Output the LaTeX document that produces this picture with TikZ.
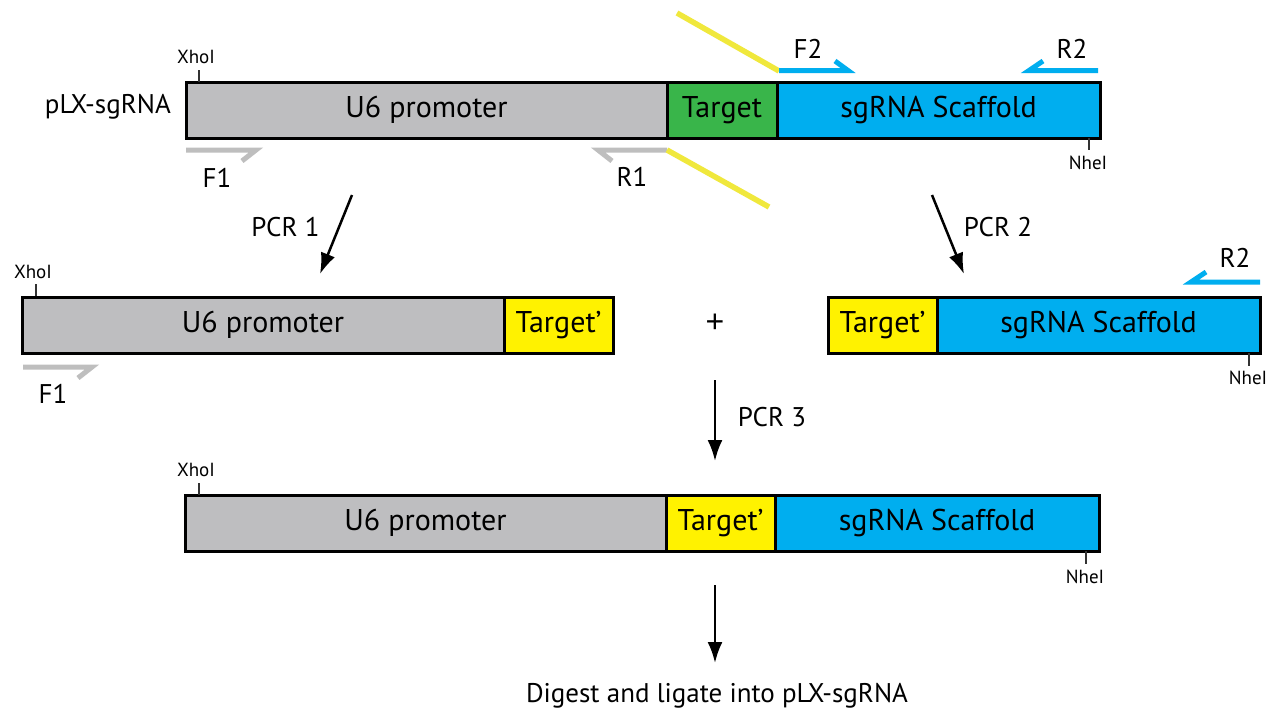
\documentclass[tikz,border=0pt]{standalone}
\usepackage{fontspec}
\setmainfont{PT Sans}
\newfontfamily\plusfont{Liberation Sans}
\usetikzlibrary{arrows.meta}
\definecolor{ggray}{RGB}{190,190,192}
\definecolor{pgray}{RGB}{190,190,190}
\definecolor{ggreen}{RGB}{57,181,74}
\definecolor{gblue}{RGB}{0,174,239}
\definecolor{gyellow}{RGB}{255,242,0}
\definecolor{lyellow}{RGB}{240,232,60}
\begin{document}
\begin{tikzpicture}[x=1pt,y=-1pt,
  seg/.style={draw=black,line width=3pt,minimum height=56pt,inner sep=0pt,font=\fontsize{30}{34}\selectfont},
  graybox/.style={seg,fill=ggray},
  greenbox/.style={seg,fill=ggreen},
  bluebox/.style={seg,fill=gblue},
  yelbox/.style={seg,fill=gyellow},
  primerg/.style={draw=pgray,line width=5pt,line join=miter},
  primerb/.style={draw=gblue,line width=5pt,line join=miter},
  yline/.style={draw=lyellow,line width=5.5pt},
  site/.style={draw=black!80,line width=1.2pt},
  sitelab/.style={font=\fontsize{19}{21}\selectfont,inner sep=0pt},
  plab/.style={font=\fontsize{27}{30}\selectfont,inner sep=0pt},
  steplab/.style={font=\fontsize{27}{30}\selectfont,inner sep=0pt},
  stepar/.style={draw=black,line width=2.5pt,-{Latex[length=21pt,width=15pt]}}
]
\useasboundingbox (0,0) rectangle (1274,710);
\fill[white] (0,0) rectangle (1274,710);

% ---- row 1
\node[graybox,minimum width=481pt] (u1) at (426.5,110) {U6 promoter};
\node[greenbox,minimum width=110pt] (t1) at (722,110) {Target};
\node[bluebox,minimum width=323pt] (s1) at (938.5,110) {sgRNA Scaffold};
\node[font=\fontsize{27}{30}\selectfont,inner sep=0pt,anchor=east] (plx) at (171,107) {pLX-sgRNA};
\draw[site] (199,70) -- (199,82);
\node[sitelab] (x1) at (196,57) {XhoI};
\draw[site] (1089,138) -- (1089,150);
\node[sitelab] (n1) at (1088,163) {NheI};

% primers row 1
\draw[primerg] (186,150) -- (256,150) -- (242,161);
\node[plab] (f1) at (217,178) {F1};
\draw[primerg] (667,150) -- (598,150) -- (612,161);
\node[plab] (r1) at (632,177) {R1};
\draw[yline] (677,13) -- (779,71);
\draw[yline] (667,150) -- (769,207);
\draw[primerb] (779,70.5) -- (848,70.5) -- (835,61);
\node[plab] (f2) at (808,48.5) {F2};
\draw[primerb] (1098,70.5) -- (1029,70.5) -- (1043,61);
\node[plab] (r2) at (1072,48.5) {R2};

% step arrows
\coordinate (a1s) at (352,195);
\coordinate (a1e) at (320,274);
\draw[stepar] (a1s) -- (a1e);
\node[steplab] (pcr1) at (285.5,227.5) {PCR 1};
\coordinate (a2s) at (932,195);
\coordinate (a2e) at (964,274);
\draw[stepar] (a2s) -- (a2e);
\node[steplab] (pcr2) at (998,227.5) {PCR 2};

% ---- row 2 left
\node[graybox,minimum width=482pt] (u2) at (263,325) {U6 promoter};
\node[yelbox,minimum width=109pt] (t2) at (558.5,325) {Target’};
\draw[site] (36,284) -- (36,296);
\node[sitelab] (x2) at (33,272) {XhoI};
\draw[primerg] (23,367) -- (92,367) -- (78,378);
\node[plab] (f1b) at (53,393.5) {F1};

\node[font=\plusfont\fontsize{32}{34}\selectfont,inner sep=0pt] (plus) at (715,323) {+};

% ---- row 2 right
\node[yelbox,minimum width=109pt] (t3) at (882.5,325) {Target’};
\node[bluebox,minimum width=323pt] (s3) at (1098.5,325) {sgRNA Scaffold};
\draw[primerb] (1260,282) -- (1191,282) -- (1206,272);
\node[plab] (r2b) at (1235,258) {R2};
\draw[site] (1249,353) -- (1249,366);
\node[sitelab] (n3) at (1248,378) {NheI};

% PCR 3
\coordinate (a3s) at (715,380);
\coordinate (a3e) at (715,461);
\draw[stepar] (a3s) -- (a3e);
\node[steplab] (pcr3) at (772,417) {PCR 3};

% ---- row 3
\node[graybox,minimum width=481pt] (u4) at (425.5,523) {U6 promoter};
\node[yelbox,minimum width=109pt] (t4) at (720.5,523) {Target’};
\node[bluebox,minimum width=324pt] (s4) at (937,523) {sgRNA Scaffold};
\draw[site] (199,483) -- (199,495);
\node[sitelab] (x4) at (196,470) {XhoI};
\draw[site] (1086,551) -- (1086,564);
\node[sitelab] (n4) at (1085,577) {NheI};

\coordinate (a4s) at (715,585);
\coordinate (a4e) at (715,663);
\draw[stepar] (a4s) -- (a4e);
\node[font=\fontsize{27}{30}\selectfont,inner sep=0pt] (dig) at (717,696) {Digest and ligate into pLX-sgRNA};
\end{tikzpicture}
\end{document}
